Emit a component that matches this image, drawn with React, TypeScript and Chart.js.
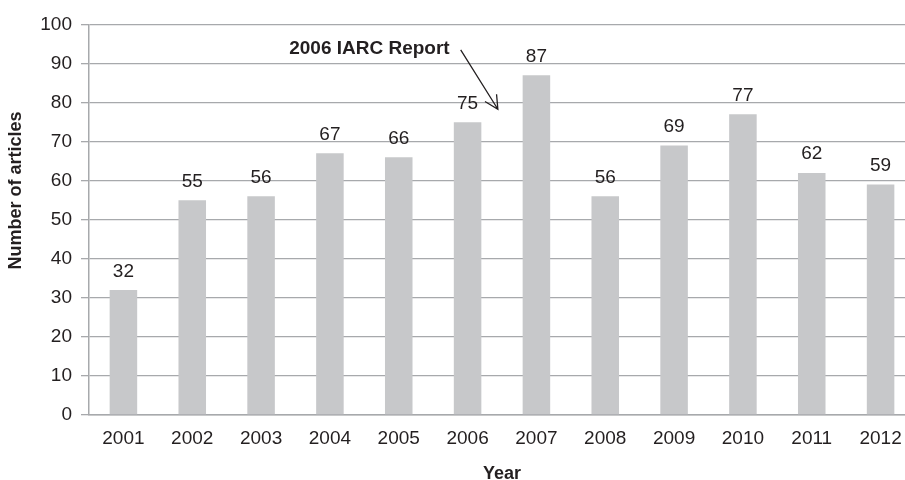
import React, { useEffect, useRef } from "react";
import { Chart, registerables } from "chart.js";

Chart.register(...registerables);

const years = ["2001", "2002", "2003", "2004", "2005", "2006", "2007", "2008", "2009", "2010", "2011", "2012"];
const articles = [32, 55, 56, 67, 66, 75, 87, 56, 69, 77, 62, 59];
const yTicks = [0, 10, 20, 30, 40, 50, 60, 70, 80, 90, 100];
const yTitle = "Number of articles";
const xTitle = "Year";
const noteText = "2006 IARC Report";
// annotation anchor points in data space: [category index, value]
const noteTextAnchor = [4.74, 93.8];
const arrowFrom = [4.9, 93.5];
const arrowTo = [5.44, 78.3];

const TEXT = "#231f20";
const GRID = "#a7a9ac";
const BAR = "#c7c8ca";
const FONT = "'Liberation Sans', Arial, Helvetica, sans-serif";

const overlayPlugin = {
  id: "overlay",
  afterDatasetsDraw(chart: any) {
    const ctx = chart.ctx;
    const xs = chart.scales.x;
    const ys = chart.scales.y;
    const meta = chart.getDatasetMeta(0);
    ctx.save();
    // value labels
    ctx.fillStyle = TEXT;
    ctx.font = `19px ${FONT}`;
    ctx.textAlign = "center";
    ctx.textBaseline = "alphabetic";
    meta.data.forEach((bar: any, i: number) => {
      ctx.fillText(String(articles[i]), bar.x, bar.y - 13.5);
    });
    // y title
    const area = chart.chartArea;
    ctx.save();
    ctx.translate(16, area.top + (area.bottom - area.top) * 0.425);
    ctx.rotate(-Math.PI / 2);
    ctx.font = `bold 18px ${FONT}`;
    ctx.textAlign = "center";
    ctx.textBaseline = "middle";
    ctx.fillText(yTitle, 0, 0);
    ctx.restore();
    // annotation text
    ctx.font = `bold 19px ${FONT}`;
    ctx.textAlign = "right";
    ctx.textBaseline = "middle";
    ctx.fillText(noteText, xs.getPixelForValue(noteTextAnchor[0]), ys.getPixelForValue(noteTextAnchor[1]));
    // arrow
    const x1 = xs.getPixelForValue(arrowFrom[0]);
    const y1 = ys.getPixelForValue(arrowFrom[1]);
    const x2 = xs.getPixelForValue(arrowTo[0]);
    const y2 = ys.getPixelForValue(arrowTo[1]);
    ctx.strokeStyle = TEXT;
    ctx.lineWidth = 1.3;
    ctx.beginPath();
    ctx.moveTo(x1, y1);
    ctx.lineTo(x2, y2);
    const ang = Math.atan2(y2 - y1, x2 - x1) + Math.PI;
    const hl = 15;
    const ha = (27 * Math.PI) / 180;
    ctx.moveTo(x2 + hl * Math.cos(ang - ha), y2 + hl * Math.sin(ang - ha));
    ctx.lineTo(x2, y2);
    ctx.lineTo(x2 + hl * Math.cos(ang + ha), y2 + hl * Math.sin(ang + ha));
    ctx.stroke();
    ctx.restore();
  },
};

export default function App() {
  const ref = useRef<HTMLCanvasElement>(null);
  useEffect(() => {
    if (!ref.current) return;
    const chart = new Chart(ref.current, {
      type: "bar",
      data: {
        labels: years,
        datasets: [
          {
            data: articles,
            backgroundColor: BAR,
            borderWidth: 0,
            categoryPercentage: 1,
            barPercentage: 0.4,
          },
        ],
      },
      options: {
        responsive: false,
        animation: false,
        layout: { padding: { top: 24.5, left: 0, right: 0, bottom: 0 } },
        plugins: { legend: { display: false }, tooltip: { enabled: false }, title: { display: false } },
        scales: {
          x: {
            grid: { display: true, drawOnChartArea: false, drawTicks: false },
            border: { display: true, color: GRID, width: 1.5 },
            ticks: { color: TEXT, font: { size: 19, family: FONT }, padding: 12, maxRotation: 0, autoSkip: false },
            title: {
              display: true,
              text: xTitle,
              color: TEXT,
              font: { size: 18, weight: "bold", family: FONT },
              padding: { top: 0, bottom: 1 },
            },
            afterFit: (s: any) => {
              s.height = 71;
            },
          },
          y: {
            min: 0,
            max: 100,
            afterBuildTicks: (s: any) => {
              s.ticks = yTicks.map((v) => ({ value: v }));
            },
            grid: { color: GRID, lineWidth: 1.3, tickLength: 8, drawTicks: true },
            border: { display: true, color: GRID, width: 1.5 },
            ticks: { color: TEXT, font: { size: 19, family: FONT }, padding: 9 },
            afterFit: (s: any) => {
              s.width = 89;
            },
          },
        },
      },
      plugins: [overlayPlugin],
    });
    return () => chart.destroy();
  }, []);
  return (
    <div style={{ position: "fixed", left: 0, top: 0, width: 905, height: 480, overflow: "hidden", background: "#fff" }}>
      <canvas ref={ref} width={915} height={486} style={{ display: "block" }} />
    </div>
  );
}
